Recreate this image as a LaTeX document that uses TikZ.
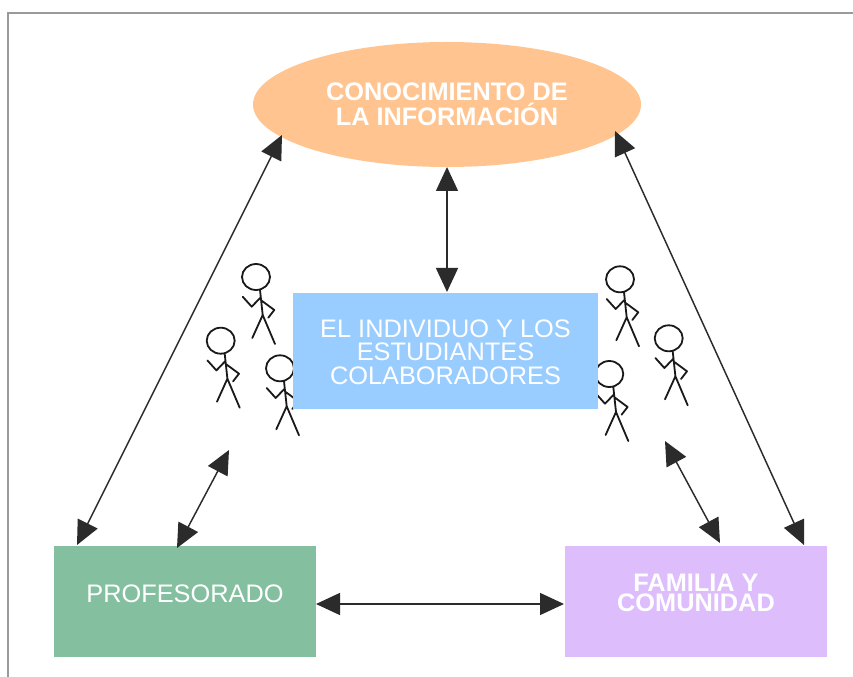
\documentclass[tikz,border=0pt]{standalone}
\usepackage{fontspec}
\setmainfont{Liberation Sans}
\usetikzlibrary{arrows.meta,shapes.geometric}
\definecolor{frameC}{HTML}{9A9A9A}
\definecolor{orangeC}{HTML}{FFC48F}
\definecolor{blueC}{HTML}{99CCFF}
\definecolor{greenC}{HTML}{84BFA0}
\definecolor{purpleC}{HTML}{DDBDFB}
\definecolor{arrC}{HTML}{2B2B2B}
\tikzset{
 x=0.75pt,y=-0.75pt,
 lab/.style={text=white,align=center,font=\fontsize{19}{17.6}\selectfont},
 blab/.style={text=white,align=center,font=\bfseries\fontsize{19}{18.7}\selectfont},
 blabb/.style={text=white,align=center,font=\bfseries\fontsize{19}{15.6}\selectfont},
 bi/.style={draw=arrC,line width=1.1pt,{Triangle[length=18pt,width=16.5pt,fill=arrC]}-{Triangle[length=18pt,width=16.5pt,fill=arrC]}},
 stick/.pic={
  \draw[line width=1.35pt,black!90,line join=round,line cap=round]
   (0,0) ellipse [x radius=14,y radius=13]
   (4,13) -- (6.7,38) -- (-3.7,61)
   (6.7,38) -- (19,67)
   (4.7,20.3) -- (-4.3,29.7) -- (-13.3,19.7)
   (5.7,23.7) -- (18.3,33) -- (12.3,40.7);
 }
}
\begin{document}
\begin{tikzpicture}
\useasboundingbox (0,0) rectangle (853,677);
\fill[white] (0,0) rectangle (853,677);
\draw[frameC,line width=1.5pt] (7.5,677) -- (7.5,13.5) -- (853,13.5);
\pic at (256,277) {stick};
\pic at (220.7,340.7) {stick};
\pic at (280,368.3) {stick};
\pic at (620,279.3) {stick};
\pic at (668.7,338.3) {stick};
\pic at (609.3,374) {stick};
\path[fill=orangeC] (447,104.5) ellipse [x radius=194,y radius=62.5];
\fill[blueC] (293,293) rectangle (598,409);
\fill[greenC] (54,546) rectangle (316,657);
\fill[purpleC] (565,546) rectangle (827,657);
\node[blab] (con) at (447,104.5) {CONOCIMIENTO DE\\LA INFORMACIÓN};
\node[lab] (ind) at (445.5,352) {EL INDIVIDUO Y LOS\\ESTUDIANTES\\COLABORADORES};
\node[lab] (pro) at (185,594) {PROFESORADO};
\node[blabb] (fam) at (696,593) {FAMILIA Y\\COMUNIDAD};
\coordinate (a1) at (282,135); \coordinate (a2) at (77,545);
\coordinate (b1) at (229,450); \coordinate (b2) at (177,548);
\coordinate (c1) at (615,131); \coordinate (c2) at (804,545);
\coordinate (d1) at (665,441); \coordinate (d2) at (720,543);
\coordinate (e1) at (447,167); \coordinate (e2) at (447,292);
\coordinate (f1) at (316,604); \coordinate (f2) at (564,604);
\draw[bi] (a1) -- (a2);
\draw[bi] (b1) -- (b2);
\draw[bi] (c1) -- (c2);
\draw[bi] (d1) -- (d2);
\draw[bi] (e1) -- (e2);
\draw[bi] (f1) -- (f2);
\end{tikzpicture}
\end{document}
